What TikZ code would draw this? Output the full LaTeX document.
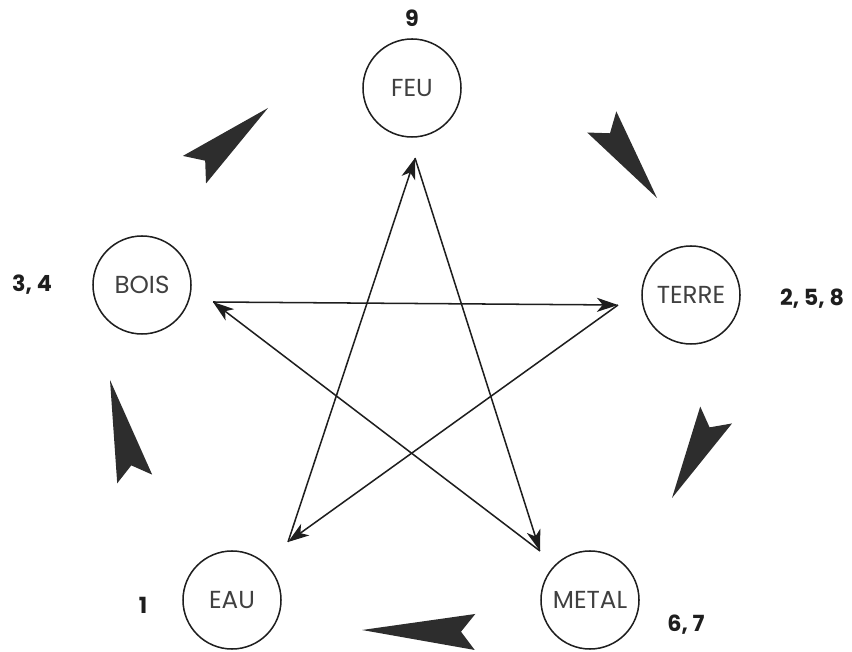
\documentclass[tikz,border=0pt]{standalone}
\usepackage{fontspec}
\setmainfont{Poppins}
\usepackage{tikz}
\usetikzlibrary{arrows.meta,positioning,calc}
\definecolor{inkBlack} {RGB}{30, 30, 30}
\definecolor{chevGray} {RGB}{45, 45, 45}

\tikzset{
  elem/.style={circle,draw=inkBlack,line width=1.3pt,minimum size=2.94cm,
               inner sep=0pt,font=\fontsize{21}{23}\selectfont,text=inkBlack!85},
  nums/.style={font=\fontsize{19}{21}\selectfont\bfseries,text=inkBlack},
  ctrl/.style={-{Stealth[length=18pt,width=12pt,inset=5pt]},inkBlack,line width=1.3pt},
  chevron/.pic={\fill[chevGray] (0,0)--(-#1,18)--(-#1+14,0)--(-#1,-18)--cycle;}
}

\begin{document}
\begin{tikzpicture}[x=0.03cm,y=0.03cm]
        \useasboundingbox (0,0) rectangle (852,651);
        % the five elements
        \node[elem] (feu)   at (412,563) {FEU};
        \node[elem] (bois)  at (142,366) {BOIS};
        \node[elem] (terre) at (691,356) {TERRE};
        \node[elem] (eau)   at (232,51)  {EAU};
        \node[elem] (metal) at (590,51)  {METAL};
        \node[nums] (n-feu)   at (412,633) {9};
        \node[nums] (n-bois)  at (32,366)  {3, 4};
        \node[nums] (n-terre) at (812,352) {2, 5, 8};
        \node[nums] (n-eau)   at (143,46)  {1};
        \node[nums] (n-metal) at (686,26)  {6, 7};
        % points of the star
        \coordinate (s-bois)  at (213,349);
        \coordinate (s-terre) at (618,346);
        \coordinate (s-eau)   at (288,109);
        \coordinate (s-feu)   at (415,493);
        \coordinate (s-metal) at (540,100);
        \draw[ctrl] (s-bois)--(s-terre);
        \draw[ctrl] (s-terre)--(s-eau);
        \draw[ctrl] (s-eau)--(s-feu);
        \draw[ctrl] (s-feu)--(s-metal);
        \draw[ctrl] (s-metal)--(s-bois);
        % big arrows round the circle
        \foreach \x/\y/\ang/\len in {268/543/40/96, 657/453/-54/94, 672/153/242/94,
                                     362/21/179/113, 110/271/104/102}{
          \pic[rotate=\ang] at (\x,\y) {chevron=\len};
        }
      \end{tikzpicture}
\end{document}
